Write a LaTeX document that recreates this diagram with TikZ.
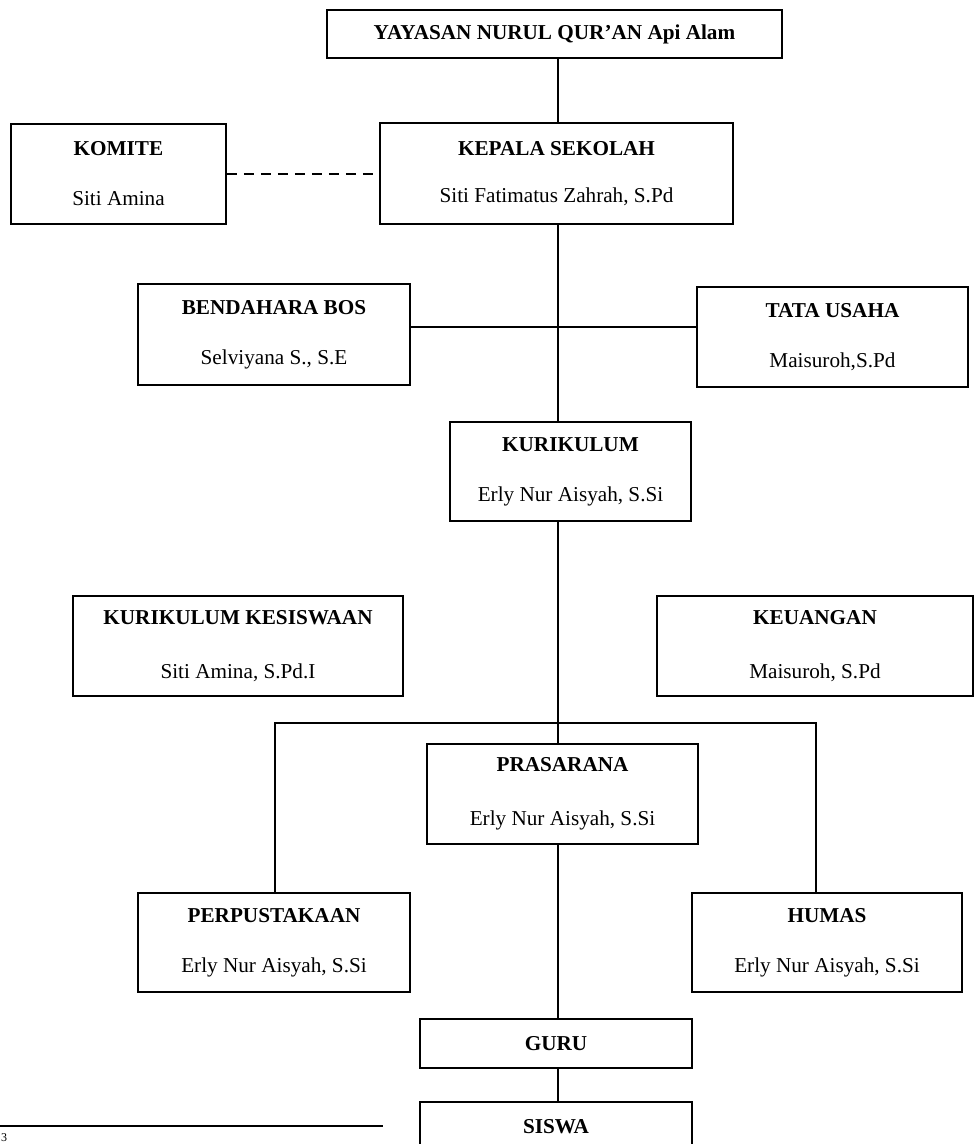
\documentclass[tikz,border=0pt]{standalone}
\usepackage{fontspec}
\setmainfont{Liberation Serif}
\tikzset{
  orgbox/.style={draw, line width=1.5pt, inner sep=0pt, align=center,
    font=\fontsize{21.2}{50}\selectfont},
  conn/.style={line width=1.5pt},
}
\newcommand{\bx}[7]{% name, left, top, right, bottom, options, text
  \node[orgbox, minimum width={(#4)-(#2)}, minimum height={(#5)-(#3)}, #6] (#1) at ({((#2)+(#4))/2},{((#3)+(#5))/2}) {#7};}
\begin{document}
\begin{tikzpicture}[x=1pt,y=-1pt]
\useasboundingbox (0,0) rectangle (974,1144);
\bx{yayasan}{327}{10}{782}{58}{}{\textbf{YAYASAN NURUL QUR’AN Api Alam}}
\bx{kepala}{380}{123}{733}{224}{font=\fontsize{21.2}{47}\selectfont}{\textbf{KEPALA SEKOLAH}\\Siti Fatimatus Zahrah, S.Pd}
\bx{komite}{11}{124}{226}{224}{}{\textbf{KOMITE}\\Siti Amina}
\bx{bendahara}{138}{284}{410}{385}{}{\textbf{BENDAHARA BOS}\\Selviyana S., S.E}
\bx{tatausaha}{697}{287}{968}{387}{}{\textbf{TATA USAHA}\\Maisuroh,S.Pd}
\bx{kurikulum}{450}{422}{691}{521}{}{\textbf{KURIKULUM}\\Erly Nur Aisyah, S.Si}
\bx{kesiswaan}{73}{596}{403}{696}{font=\fontsize{21.2}{54}\selectfont}{\textbf{KURIKULUM KESISWAAN}\\Siti Amina, S.Pd.I}
\bx{keuangan}{657}{596}{973}{696}{font=\fontsize{21.2}{54}\selectfont}{\textbf{KEUANGAN}\\Maisuroh, S.Pd}
\bx{prasarana}{427}{744}{698}{844}{font=\fontsize{21.2}{54}\selectfont}{\textbf{PRASARANA}\\Erly Nur Aisyah, S.Si}
\bx{perpustakaan}{138}{893}{410}{992}{}{\textbf{PERPUSTAKAAN}\\Erly Nur Aisyah, S.Si}
\bx{humas}{692}{893}{962}{992}{}{\textbf{HUMAS}\\Erly Nur Aisyah, S.Si}
\bx{guru}{420}{1019}{692}{1068}{}{\textbf{GURU}}
\bx{siswa}{420}{1102}{692}{1152}{}{\textbf{SISWA}}
\coordinate (spine) at (558,0);
\coordinate (bl) at (275,723);
\coordinate (br) at (816,723);
\draw[conn] (spine |- yayasan.south) -- (spine |- kepala.north);
\draw[conn, dash pattern=on 10pt off 7pt] (komite.east) -- (komite.east -| kepala.west);
\draw[conn] (spine |- kepala.south) -- (spine |- kurikulum.north);
\draw[conn] ([yshift=7.5pt]bendahara.east) coordinate (bt) -- (bt -| tatausaha.west);
\draw[conn] (spine |- kurikulum.south) -- (spine |- prasarana.north);
\draw[conn] (bl |- perpustakaan.north) -- (bl) -- (br) -- (br |- humas.north);
\draw[conn] (spine |- prasarana.south) -- (spine |- guru.north);
\draw[conn] (spine |- guru.south) -- (spine |- siswa.north);
\coordinate (fa) at (0,1126);
\coordinate (fb) at (383,1126);
\draw[conn] (fa) -- (fb);
\node[anchor=north west, inner sep=0pt, font=\fontsize{12}{14}\selectfont] (fn) at (1,1133) {3};
\end{tikzpicture}
\end{document}
